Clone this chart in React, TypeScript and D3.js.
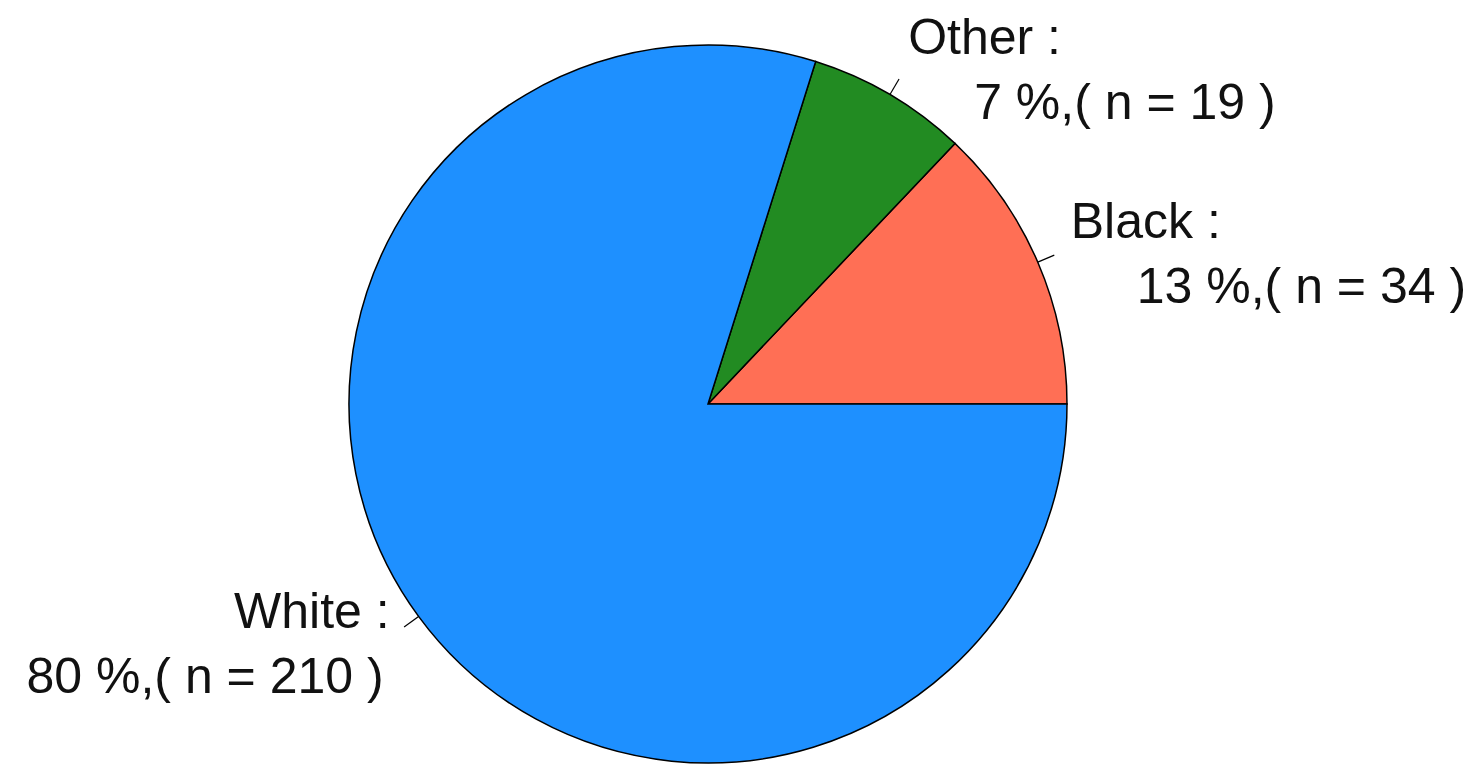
import React from "react";
import * as d3 from "d3";

const categories = ["Black", "Other", "White"];
const counts = [34, 19, 210];
const percents = [13, 7, 80];
const colors = ["#FF6F55", "#228B22", "#1E90FF"];

const W = 1481;
const H = 764;
const CX = 708;
const CY = 404;
const R = 359;

export default function App() {
  const pie = d3
    .pie<number>()
    .sort(null)
    .value((d) => d)
    .startAngle(Math.PI / 2)
    .endAngle(Math.PI / 2 - 2 * Math.PI);
  const arcs = pie(counts);
  const arcGen = d3.arc<d3.PieArcDatum<number>>().innerRadius(0).outerRadius(R);

  return (
    <svg
      width={W}
      height={H}
      style={{ position: "absolute", left: 0, top: 0, background: "#fff" }}
      fontFamily="'Liberation Sans', Arial, sans-serif"
    >
      <g transform={`translate(${CX},${CY})`}>
        {arcs.map((a, i) => (
          <path
            key={categories[i]}
            d={arcGen(a) || ""}
            fill={colors[i]}
            stroke="#000"
            strokeWidth={1.5}
          />
        ))}
        {arcs.map((a, i) => {
          const m = (a.startAngle + a.endAngle) / 2;
          const sx = Math.sin(m);
          const sy = -Math.cos(m);
          const lx = sx * R * 1.1;
          const ly = sy * R * 1.1;
          const right = sx > 0;
          return (
            <g key={"l" + i}>
              <line
                x1={sx * R}
                y1={sy * R}
                x2={sx * R * 1.05}
                y2={sy * R * 1.05}
                stroke="#000"
                strokeWidth={1.2}
              />
              <text
                x={lx}
                y={ly - 10}
                fontSize={50}
                fill="#111"
                textAnchor={right ? "start" : "end"}
              >
                {categories[i] + " :"}
              </text>
              <text
                x={right ? lx + 66 : lx - 6}
                y={ly + 55}
                fontSize={50}
                fill="#111"
                textAnchor={right ? "start" : "end"}
              >
                {`${percents[i]} %,( n = ${counts[i]} )`}
              </text>
            </g>
          );
        })}
      </g>
    </svg>
  );
}
